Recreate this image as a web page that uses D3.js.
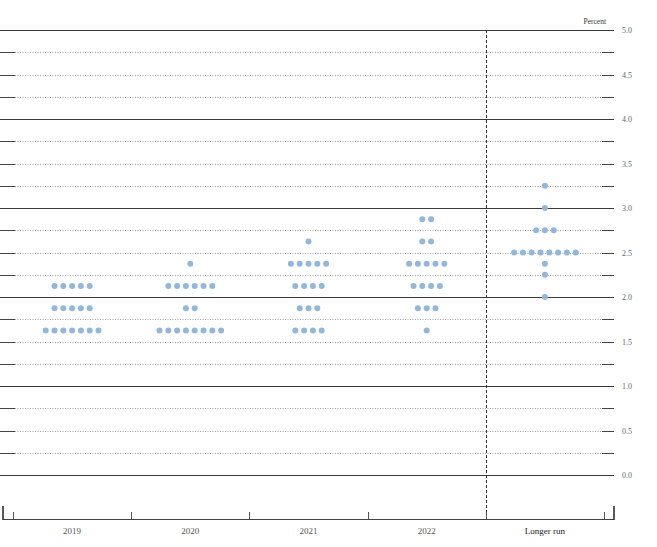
<!DOCTYPE html>
<html><head><meta charset="utf-8">
<script src="https://cdn.jsdelivr.net/npm/d3@7"></script>
<style>body{margin:0;background:#fff}svg{display:block}</style>
</head><body>
<svg id="c" width="657" height="547"></svg>
<script>
const categories = ["2019","2020","2021","2022","Longer run"];
// each entry: [rate, count]
const dots2019 = [[1.625,7],[1.875,5],[2.125,5]];
const dots2020 = [[1.625,8],[1.875,2],[2.125,6],[2.375,1]];
const dots2021 = [[1.625,4],[1.875,3],[2.125,4],[2.375,5],[2.625,1]];
const dots2022 = [[1.625,1],[1.875,3],[2.125,4],[2.375,5],[2.625,2],[2.875,2]];
const dotsLonger = [[2.0,1],[2.25,1],[2.375,1],[2.5,8],[2.75,3],[3.0,1],[3.25,1]];
const tickLabels = ["0.0","0.5","1.0","1.5","2.0","2.5","3.0","3.5","4.0","4.5","5.0"];
const series = [dots2019,dots2020,dots2021,dots2022,dotsLonger];

const svg = d3.select("#c");
const x = d3.scaleBand().domain(categories).range([13,604]);
const y = d3.scaleLinear().domain([0,5]).range([475,30]);
const font = "'Liberation Serif','Times New Roman',serif";

// gridlines every 0.25
const grid = d3.range(0,5.0001,0.25);
grid.forEach(v=>{
  const yy = Math.round(y(v))+0.5;
  const major = Math.abs(v-Math.round(v))<1e-6;
  if(major){
    svg.append("line").attr("x1",0).attr("x2",614).attr("y1",yy).attr("y2",yy)
      .attr("stroke","#3a3a3a").attr("stroke-width",1);
  } else {
    svg.append("line").attr("x1",15).attr("x2",602).attr("y1",yy).attr("y2",yy)
      .attr("stroke","#888").attr("stroke-width",0.8).attr("stroke-dasharray","1,1.5");
    svg.append("line").attr("x1",0).attr("x2",15).attr("y1",yy).attr("y2",yy)
      .attr("stroke","#444").attr("stroke-width",1);
    svg.append("line").attr("x1",602).attr("x2",614).attr("y1",yy).attr("y2",yy)
      .attr("stroke","#444").attr("stroke-width",1);
  }
});

// right axis labels
tickLabels.forEach(t=>{
  svg.append("text").attr("x",622).attr("y",y(+t)+3).text(t)
    .attr("font-family",font).attr("font-size",8).attr("fill","#666");
});
svg.append("text").attr("x",606).attr("y",24).attr("text-anchor","end").text("Percent")
  .attr("font-family",font).attr("font-size",7.5).attr("fill","#333");

// dashed divider
svg.append("line").attr("x1",486.5).attr("x2",486.5).attr("y1",30).attr("y2",519)
  .attr("stroke","#333").attr("stroke-width",1).attr("stroke-dasharray","3,2");

// bottom axis
const by = 519.5;
svg.append("line").attr("x1",3).attr("x2",614).attr("y1",by).attr("y2",by).attr("stroke","#444");
svg.append("line").attr("x1",3).attr("x2",3).attr("y1",506).attr("y2",520).attr("stroke","#222").attr("stroke-width",1.5);
svg.append("line").attr("x1",614).attr("x2",614).attr("y1",506).attr("y2",520).attr("stroke","#222").attr("stroke-width",1.5);
const bounds = categories.map(c=>x(c)).concat([x.range()[1]]);
bounds.forEach(b=>{
  svg.append("line").attr("x1",Math.round(b)+0.5).attr("x2",Math.round(b)+0.5).attr("y1",512).attr("y2",519)
    .attr("stroke","#555").attr("stroke-width",1);
});
categories.forEach(c=>{
  svg.append("text").attr("x",x(c)+x.bandwidth()/2).attr("y",534).attr("text-anchor","middle")
    .text(c).attr("font-family",font).attr("font-size",9).attr("fill",c==="Longer run"?"#222":"#555");
});

// dots
const sp = 8.8;
series.forEach((s,i)=>{
  const cx = x(categories[i])+x.bandwidth()/2;
  s.forEach(([v,n])=>{
    for(let k=0;k<n;k++){
      svg.append("circle").attr("cx",cx+(k-(n-1)/2)*sp).attr("cy",y(v)).attr("r",3)
        .attr("fill","#93b7da");
    }
  });
});
</script>
</body></html>
